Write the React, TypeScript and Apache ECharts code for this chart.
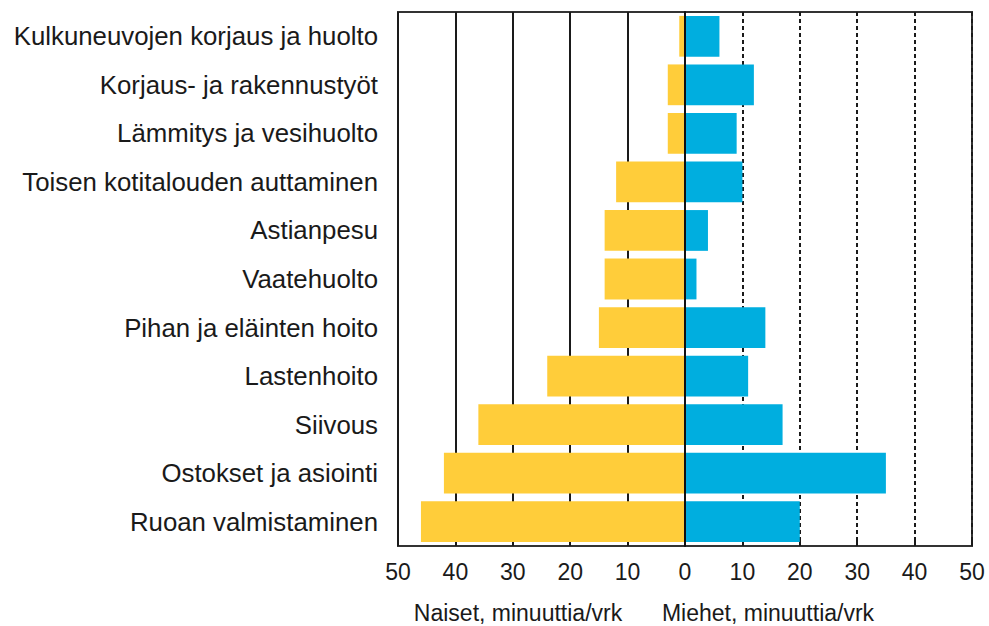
import React, { useEffect, useRef } from "react";
import * as echarts from "echarts";

const categories = [
  "Kulkuneuvojen korjaus ja huolto",
  "Korjaus- ja rakennustyöt",
  "Lämmitys ja vesihuolto",
  "Toisen kotitalouden auttaminen",
  "Astianpesu",
  "Vaatehuolto",
  "Pihan ja eläinten hoito",
  "Lastenhoito",
  "Siivous",
  "Ostokset ja asiointi",
  "Ruoan valmistaminen",
];
const naiset = [1, 3, 3, 12, 14, 14, 15, 24, 36, 42, 46];
const miehet = [6, 12, 9, 10, 4, 2, 14, 11, 17, 35, 20];
const naisetName = "Naiset, minuuttia/vrk";
const miehetName = "Miehet, minuuttia/vrk";

const FONT = "'Liberation Sans', Arial, sans-serif";
const YELLOW = "#FFCD3A";
const BLUE = "#00AEDF";
const INK = "#1a1a1a";

export default function App() {
  const ref = useRef<HTMLDivElement>(null);
  useEffect(() => {
    if (!ref.current) return;
    const chart = echarts.init(ref.current, undefined, { renderer: "svg" });
    const xCommon = {
      type: "value" as const,
      min: 0,
      max: 50,
      interval: 10,
      axisLine: { show: true, lineStyle: { color: "#333", width: 2 } },
      axisTick: { show: true, inside: true, length: 6, lineStyle: { color: INK, width: 2 } },
      axisLabel: { color: INK, fontSize: 23, fontFamily: FONT, margin: 14 },
    };
    chart.setOption({
      animation: false,
      backgroundColor: "#ffffff",
      grid: [
        { left: 398, width: 287, top: 12, height: 534, show: true, borderColor: "#333", borderWidth: 2 },
        { left: 685, width: 287, top: 12, height: 534, show: true, borderColor: "#333", borderWidth: 2 },
      ],
      xAxis: [
        {
          ...xCommon,
          gridIndex: 0,
          inverse: true,
          splitLine: { show: true, lineStyle: { color: INK, width: 2, type: "solid" } },
        },
        {
          ...xCommon,
          gridIndex: 1,
          axisLabel: { ...xCommon.axisLabel, showMinLabel: false },
          splitLine: { show: true, lineStyle: { color: INK, width: 2, type: [4, 3] } },
        },
      ],
      yAxis: [
        {
          type: "category",
          gridIndex: 0,
          data: categories,
          inverse: true,
          position: "left",
          axisLine: { show: false, onZero: false },
          axisTick: { show: false },
          axisLabel: { color: INK, fontSize: 25.8, fontFamily: FONT, margin: 20 },
        },
        {
          type: "category",
          gridIndex: 1,
          data: categories,
          inverse: true,
          z: 10,
          axisLine: { show: true, lineStyle: { color: "#111", width: 2 } },
          axisTick: { show: false },
          axisLabel: { show: false },
        },
      ],
      series: [
        {
          type: "bar",
          name: "Naiset",
          xAxisIndex: 0,
          yAxisIndex: 0,
          data: naiset,
          barWidth: "84%",
          itemStyle: { color: YELLOW },
        },
        {
          type: "bar",
          name: "Miehet",
          xAxisIndex: 1,
          yAxisIndex: 1,
          data: miehet,
          barWidth: "84%",
          itemStyle: { color: BLUE },
        },
      ],
      graphic: [
        {
          type: "text",
          x: 518,
          y: 613,
          style: { text: naisetName, fill: INK, font: `23px ${FONT}`, textAlign: "center", textVerticalAlign: "middle" },
        },
        {
          type: "text",
          x: 768,
          y: 613,
          style: { text: miehetName, fill: INK, font: `23px ${FONT}`, textAlign: "center", textVerticalAlign: "middle" },
        },
      ],
    });
    return () => chart.dispose();
  }, []);
  return <div ref={ref} style={{ position: "fixed", left: 0, top: 0, width: 989, height: 626 }} />;
}
